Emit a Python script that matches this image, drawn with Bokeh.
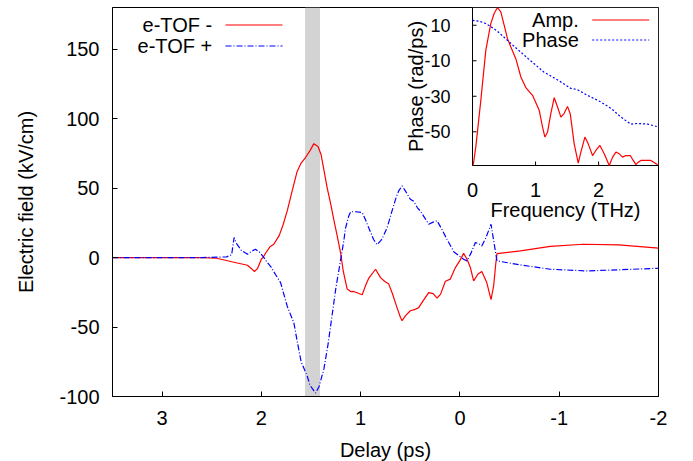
import math
from bokeh.plotting import figure
from bokeh.models import Range1d, FixedTicker, BoxAnnotation, Label, Arrow
from bokeh.core.properties import value
from bokeh.embed import file_html
from bokeh.resources import INLINE

FONT = "Liberation Sans"
FS = "20px"

# ---- main panel data: delay (ps) vs electric field (kV/cm)
red_delay = [3.5, 3.0, 2.6, 2.45, 2.3, 2.14, 2.1, 2.07, 2.04, 2.0, 1.985, 1.95, 1.91, 1.875,
             1.82, 1.78, 1.74, 1.69, 1.64, 1.60, 1.556, 1.51, 1.472, 1.43, 1.40, 1.37, 1.337,
             1.30, 1.27, 1.235, 1.20, 1.175, 1.136, 1.10, 1.07, 1.03, 0.985, 0.95, 0.92, 0.85,
             0.80, 0.76, 0.717, 0.68, 0.634, 0.60, 0.583, 0.55, 0.5, 0.46, 0.416, 0.37, 0.315,
             0.27, 0.23, 0.195, 0.147, 0.097, 0.046, 0.0, -0.037, -0.07, -0.105, -0.138, -0.18,
             -0.22, -0.27, -0.313, -0.34, -0.36, -0.373, -0.61, -0.91, -1.245, -1.6, -2.0]
red_field = [0, 0, 0, -0.5, -3, -5.5, -8, -10, -8, -1, 0, 4, 8, 9.6,
             16, 24, 33.6, 48, 62, 68, 72, 77, 82, 80, 74.4, 63, 50,
             38, 27, 15, 2.4, -10, -22.7, -24.5, -24.4, -25.5, -26.8, -20, -15, -8.4,
             -14.4, -17, -19.1, -26, -36, -43, -45.5, -42, -38.3, -37.5, -36, -31, -25.2,
             -26, -29.2, -26.3, -17, -15.5, -7.2, -2, 3, -1, -7.2, -16.8, -12,
             -10, -18, -30.2, -20, -5, 2.9, 4.8, 8.0, 9.6, 9.2, 6.8]

blue_delay = [3.5, 3.0, 2.6, 2.35, 2.30, 2.275, 2.25, 2.2, 2.14, 2.1, 2.06, 2.02, 1.975, 1.94,
              1.90, 1.86, 1.807, 1.74, 1.673, 1.64, 1.60, 1.54, 1.51, 1.455, 1.42, 1.37, 1.33,
              1.287, 1.25, 1.203, 1.17, 1.153, 1.12, 1.10, 1.05, 0.985, 0.95, 0.92, 0.87, 0.834,
              0.80, 0.784, 0.733, 0.684, 0.64, 0.617, 0.583, 0.55, 0.5, 0.466, 0.43, 0.40, 0.35,
              0.315, 0.27, 0.23, 0.18, 0.13, 0.06, -0.037, -0.07, -0.11, -0.155, -0.19, -0.22,
              -0.26, -0.313, -0.34, -0.373, -0.61, -0.91, -1.28, -1.6, -2.0]
blue_field = [0, 0, 0, 0.5, 2, 14.4, 10, 5, 2.4, 4.5, 6, 4, 0, -3.6,
              -7, -12, -18, -35, -47, -60, -75, -85, -92, -97.5, -93, -80, -63,
              -41, -22, -2, 12, 21, 30, 33, 33, 32.4, 27, 21.6, 13, 9.3,
              12, 13.5, 21.6, 33.6, 44, 48, 51.6, 48, 42, 40.5, 36, 33.6, 28,
              24, 25.5, 26.5, 20, 13, 4, -1.2, -2.4, 3, 10.8, 10, 8.4,
              14, 24, 12, -2.4, -5.3, -8.4, -9.6, -8.8, -7.7]

band_left, band_right = 1.56, 1.41
x_range_main = (3.5, -2)
y_range_main = (-100, 180)
x_ticks = [3, 2, 1, 0, -1, -2]
y_ticks = [-100, -50, 0, 50, 100, 150]
legend_labels = ["e-TOF -", "e-TOF +"]

# ---- inset data: normalised spectral amplitude and spectral phase vs frequency (THz)
amp_freq = [0.0, 0.015, 0.052, 0.132, 0.211, 0.29, 0.343, 0.396, 0.449, 0.502, 0.555, 0.608,
            0.687, 0.767, 0.846, 0.952, 1.058, 1.111, 1.148, 1.19, 1.243, 1.296, 1.349, 1.402,
            1.454, 1.507, 1.55, 1.613, 1.677, 1.719, 1.783, 1.835, 1.904, 1.957, 2.021, 2.089,
            2.169, 2.222, 2.275, 2.327, 2.38, 2.433, 2.502, 2.55, 2.592, 2.629, 2.671, 2.83, 2.936]
amp = [0.0, 0.011, 0.116, 0.412, 0.729, 0.898, 0.962, 1.0, 0.972, 0.888, 0.803, 0.75,
       0.676, 0.56, 0.493, 0.444, 0.349, 0.243, 0.18, 0.211, 0.33, 0.429, 0.37, 0.306,
       0.33, 0.374, 0.328, 0.137, 0.015, 0.085, 0.18, 0.137, 0.063, 0.095, 0.127, 0.074,
       0.0, 0.053, 0.085, 0.074, 0.053, 0.063, 0.063, 0.032, 0.006, 0.021, 0.032, 0.032, 0.004]
phase_freq = [0.0, 0.1, 0.19, 0.3, 0.39, 0.61, 0.88, 1.13, 1.40, 1.56, 1.66, 1.82, 2.03,
              2.20, 2.35, 2.51, 2.62, 2.78, 2.94]
phase = [12.8, 12.3, 11.3, 9.0, 6.8, -0.3, -8.7, -16.3, -21.9, -25.6, -26.2, -29.4, -33.1,
         -36.9, -41.6, -45.7, -45.3, -45.7, -47.2]
inset_x_range = (0, 2.95)
inset_y_range = (-69, 20)
inset_amp_range = (0, 1)
inset_x_ticks = [0, 1, 2]
inset_y_ticks = [-50, -30, -10, 10]
inset_legend_labels = ["Amp.", "Phase"]

# ---- layout (pixels)
FRAME_W, FRAME_H = 546, 389
INSET_W, INSET_H = 186, 158   # inset sits in the top-right corner of the main frame


def corner_range(lo, hi, frame_px, inset_px):
    """Extra range whose top/right end coincides with the frame edge, so that
    [lo, hi] occupies inset_px pixels at the far end of the frame."""
    return Range1d(hi - (hi - lo) * frame_px / inset_px, hi)


p = figure(frame_width=FRAME_W, frame_height=FRAME_H,
           x_range=Range1d(*x_range_main), y_range=Range1d(*y_range_main),
           min_border_left=112, min_border_right=33, min_border_top=7, min_border_bottom=63,
           output_backend="svg", toolbar_location=None)
p.xgrid.visible = False
p.ygrid.visible = False
p.outline_line_color = "black"
p.outline_line_width = 1
p.outline_line_alpha = 1
for ax in p.xaxis + p.yaxis:
    ax.major_tick_in = 5
    ax.major_tick_out = 0
    ax.minor_tick_line_color = None
    ax.axis_line_color = "black"
    ax.major_tick_line_color = "black"
    ax.major_label_text_font = FONT
    ax.major_label_text_font_size = FS
    ax.major_label_text_color = "black"
    ax.axis_label_text_font = FONT
    ax.axis_label_text_font_size = FS
    ax.axis_label_text_font_style = "normal"
    ax.axis_label_text_color = "black"
p.xaxis.ticker = FixedTicker(ticks=x_ticks)
p.yaxis.ticker = FixedTicker(ticks=y_ticks)
p.xaxis.major_label_overrides = {t: str(t) for t in x_ticks}
p.yaxis.major_label_overrides = {t: str(t) for t in y_ticks}
p.xaxis.major_label_standoff = 14
p.yaxis.major_label_standoff = 13
p.xaxis.axis_label = "Delay (ps)"
p.yaxis.axis_label = "Electric field (kV/cm)"
p.xaxis.axis_label_standoff = 11
p.yaxis.axis_label_standoff = 19

p.add_layout(BoxAnnotation(left=band_left, right=band_right, fill_color="#d3d3d3", fill_alpha=1,
                           line_color=None, level="underlay"))

red_style = dict(line_color="#ff0000", line_width=1.2)
blue_style = dict(line_color="#0000ff", line_width=1.2, line_dash="6 2 1 2")
phase_style = dict(line_color="#0000ff", line_width=1.2, line_dash="2 2")

p.line(red_delay, red_field, **red_style)
p.line(blue_delay, blue_field, **blue_style)

# ---- inset drawn inside the main frame through its own ranges
p.extra_x_ranges = {"ix": corner_range(*inset_x_range, FRAME_W, INSET_W)}
p.extra_y_ranges = {"iy": corner_range(*inset_y_range, FRAME_H, INSET_H),
                    "ia": corner_range(*inset_amp_range, FRAME_H, INSET_H)}
ix0, ix1 = inset_x_range
iy0, iy1 = inset_y_range
IR = dict(x_range_name="ix", y_range_name="iy")

p.quad(left=[ix0], right=[ix1], bottom=[iy0], top=[iy1], fill_color="white",
       line_color="black", line_width=1, **IR)
p.line(amp_freq, amp, x_range_name="ix", y_range_name="ia", **red_style)
p.line(phase_freq, phase, **phase_style, **IR)

# inset ticks (pointing inwards) and tick labels
p.ray(x=inset_x_ticks, y=[iy0] * len(inset_x_ticks), length=4, length_units="screen",
      angle=math.pi / 2, line_color="black", line_width=1, **IR)
p.ray(x=[ix0] * len(inset_y_ticks), y=inset_y_ticks, length=4, length_units="screen",
      angle=0, line_color="black", line_width=1, **IR)
txt = dict(text_font=value(FONT), text_font_size=value(FS), text_color="black")
p.text(x=inset_x_ticks, y=[iy0] * len(inset_x_ticks), text=[str(t) for t in inset_x_ticks],
       text_align="center", text_baseline="middle", y_offset=24, **txt, **IR)
p.text(x=[ix0] * len(inset_y_ticks), y=inset_y_ticks, text=[str(t) for t in inset_y_ticks],
       text_align="right", text_baseline="middle", x_offset=-22,
       text_font=value(FONT), text_font_size=value("18px"), text_color="black", **IR)
p.text(x=[(ix0 + ix1) / 2], y=[iy0], text=["Frequency (THz)"], text_align="center",
       text_baseline="middle", y_offset=44, **txt, **IR)
p.text(x=[ix0], y=[(iy0 + iy1) / 2], text=["Phase (rad/ps)"], text_align="center",
       text_baseline="middle", angle=math.pi / 2, x_offset=-57, **txt, **IR)


# ---- legends in gnuplot style: right-aligned text, then the line sample
def key(labels, styles, text_right, line_x0, line_len, rows_y):
    for lab, sty, ry in zip(labels, styles, rows_y):
        p.add_layout(Label(x=text_right, y=ry, x_units="screen", y_units="screen", text=lab,
                           text_align="right", text_baseline="middle", text_font=FONT,
                           text_font_size=FS, text_color="black"))
        p.add_layout(Arrow(x_start=line_x0, y_start=ry, x_end=line_x0 + line_len, y_end=ry,
                           start_units="screen", end_units="screen", start=None, end=None, **sty))


key(legend_labels, [red_style, blue_style], 99.7, 113, 57, [FRAME_H - 17.5, FRAME_H - 38.5])
key(inset_legend_labels, [red_style, phase_style], 466.3, 479.7, 57,
    [FRAME_H - 12.5, FRAME_H - 32.5])

open("out.html", "w").write(file_html(p, INLINE))
